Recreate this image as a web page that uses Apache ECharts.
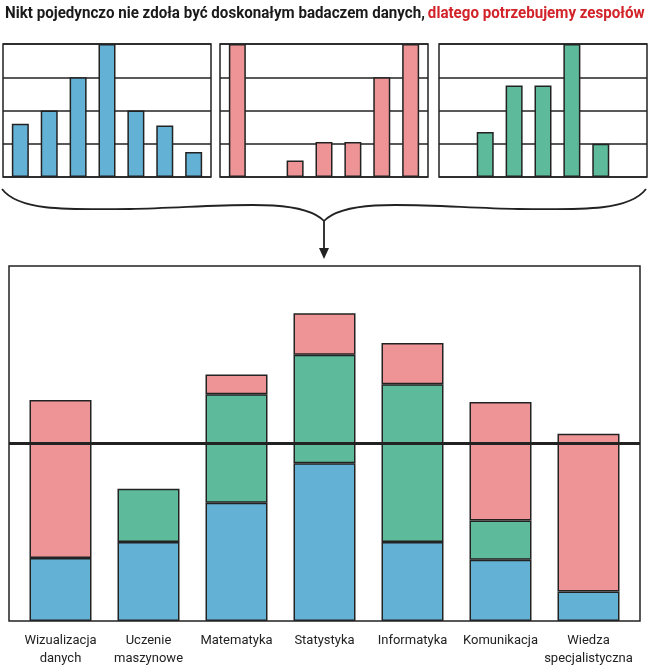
<!DOCTYPE html>
<html>
<head>
<meta charset="utf-8">
<script src="https://cdn.jsdelivr.net/npm/echarts@6/dist/echarts.min.js"></script>
<style>
html,body{margin:0;padding:0;background:#fff;}
#chart{width:650px;height:671px;}
</style>
</head>
<body>
<div id="chart"></div>
<script>
// ---- data ----
var categories = ['Wizualizacja\ndanych', 'Uczenie\nmaszynowe', 'Matematyka', 'Statystyka', 'Informatyka', 'Komunikacja', 'Wiedza\nspecjalistyczna'];
var blueValues  = [1.6, 2, 3, 4, 2, 1.55, 0.75];
var greenValues = [0, 1.35, 2.75, 2.75, 4, 1, 0];
var pinkValues  = [4, 0, 0.5, 1.05, 1.05, 3, 4];
var threshold = 4.5;
var titleBlack = 'Nikt pojedynczo nie zdoła być doskonałym badaczem danych,';
var titleRed = 'dlatego potrzebujemy zespołów';

// ---- style ----
var BLUE = '#63b2d6', GREEN = '#5dbb9b', PINK = '#ee9496', INK = '#222222';
var FONT = 'Roboto, "Noto Sans", sans-serif';

function pairs(arr) { return arr.map(function (v, i) { return [i, v === 0 ? '-' : v]; }); }
function noZero(arr) { return arr.map(function (v) { return v === 0 ? '-' : v; }); }

var smallBoxes = [
  { left: 3, color: BLUE, data: blueValues },
  { left: 220, color: PINK, data: pinkValues },
  { left: 439, color: GREEN, data: greenValues }
];

var grids = [], xAxes = [], yAxes = [], series = [];
smallBoxes.forEach(function (b, k) {
  grids.push({ left: b.left, top: 44, width: 208, height: 133, show: true, borderColor: INK, borderWidth: 1.5, backgroundColor: '#fff' });
  xAxes.push({ gridIndex: k, type: 'value', min: -0.6, max: 6.6, show: false });
  yAxes.push({ gridIndex: k, type: 'value', min: 0, max: 4, interval: 1,
    axisLine: { show: false }, axisTick: { show: false }, axisLabel: { show: false },
    splitLine: { show: true, lineStyle: { color: INK, width: 1.5 } } });
  series.push({ type: 'bar', xAxisIndex: k, yAxisIndex: k, barWidth: 17,
    data: pairs(b.data),
    itemStyle: { color: b.color, borderColor: INK, borderWidth: 1.5 } });
});

// main chart: outer box grid (index 3) + inner data grid (index 4)
grids.push({ left: 9, top: 266, width: 631, height: 355, show: true, borderColor: INK, borderWidth: 1.5 });
xAxes.push({ gridIndex: 3, type: 'value', min: 0, max: 1, show: false });
yAxes.push({ gridIndex: 3, type: 'value', min: 0, max: 9, show: false });

grids.push({ left: 16.5, top: 266, width: 616, height: 355, show: false });
xAxes.push({ gridIndex: 4, type: 'category', data: categories,
  axisLine: { show: false }, axisTick: { show: false }, splitLine: { show: false },
  axisLabel: { show: true, interval: 0, margin: 11,
    fontFamily: FONT, fontSize: 13, lineHeight: 18, color: INK } });
yAxes.push({ gridIndex: 4, type: 'value', min: 0, max: 9, show: false, splitLine: { show: false } });

[[blueValues, BLUE], [greenValues, GREEN], [pinkValues, PINK]].forEach(function (s) {
  series.push({ type: 'bar', xAxisIndex: 4, yAxisIndex: 4, stack: 'team', barWidth: 62,
    data: noZero(s[0]), z: 2,
    itemStyle: { color: s[1], borderColor: INK, borderWidth: 1.5 } });
});

// threshold line across the whole box
series.push({ type: 'line', xAxisIndex: 3, yAxisIndex: 3, z: 10, symbol: 'none', silent: true,
  data: [[0, threshold], [1, threshold]],
  lineStyle: { color: INK, width: 3 } });

var chart = echarts.init(document.getElementById('chart'), null, { renderer: 'canvas' });
chart.setOption({
  animation: false,
  backgroundColor: '#fff',
  grid: grids, xAxis: xAxes, yAxis: yAxes, series: series,
  graphic: [
    { type: 'text', left: 5, top: 5, scaleX: 0.89,
      style: { text: '{a|' + titleBlack + '} {b|' + titleRed + '}',
        rich: {
          a: { fontFamily: FONT, fontWeight: 'bold', fontSize: 17, fill: '#1a1a1a' },
          b: { fontFamily: FONT, fontWeight: 'bold', fontSize: 17, fill: '#d2232a' }
        } } },
    { type: 'bezierCurve', shape: { x1: 2, y1: 189, cpx1: 18, cpy1: 210, cpx2: 60, cpy2: 210, x2: 130, y2: 209 },
      style: { fill: null, stroke: INK, lineWidth: 1.8 } },
    { type: 'bezierCurve', shape: { x1: 130, y1: 209, cpx1: 220, cpy1: 207, cpx2: 300, cpy2: 196, x2: 324, y2: 221 },
      style: { fill: null, stroke: INK, lineWidth: 1.8 } },
    { type: 'bezierCurve', shape: { x1: 646, y1: 189, cpx1: 630, cpy1: 210, cpx2: 588, cpy2: 210, x2: 518, y2: 209 },
      style: { fill: null, stroke: INK, lineWidth: 1.8 } },
    { type: 'bezierCurve', shape: { x1: 518, y1: 209, cpx1: 428, cpy1: 207, cpx2: 348, cpy2: 196, x2: 324, y2: 221 },
      style: { fill: null, stroke: INK, lineWidth: 1.8 } },
    { type: 'line', shape: { x1: 324, y1: 220, x2: 324, y2: 250 }, style: { stroke: INK, lineWidth: 1.8 } },
    { type: 'polygon', shape: { points: [[319, 248], [329, 248], [324, 259]] }, style: { fill: INK } }
  ]
});
</script>
</body>
</html>
